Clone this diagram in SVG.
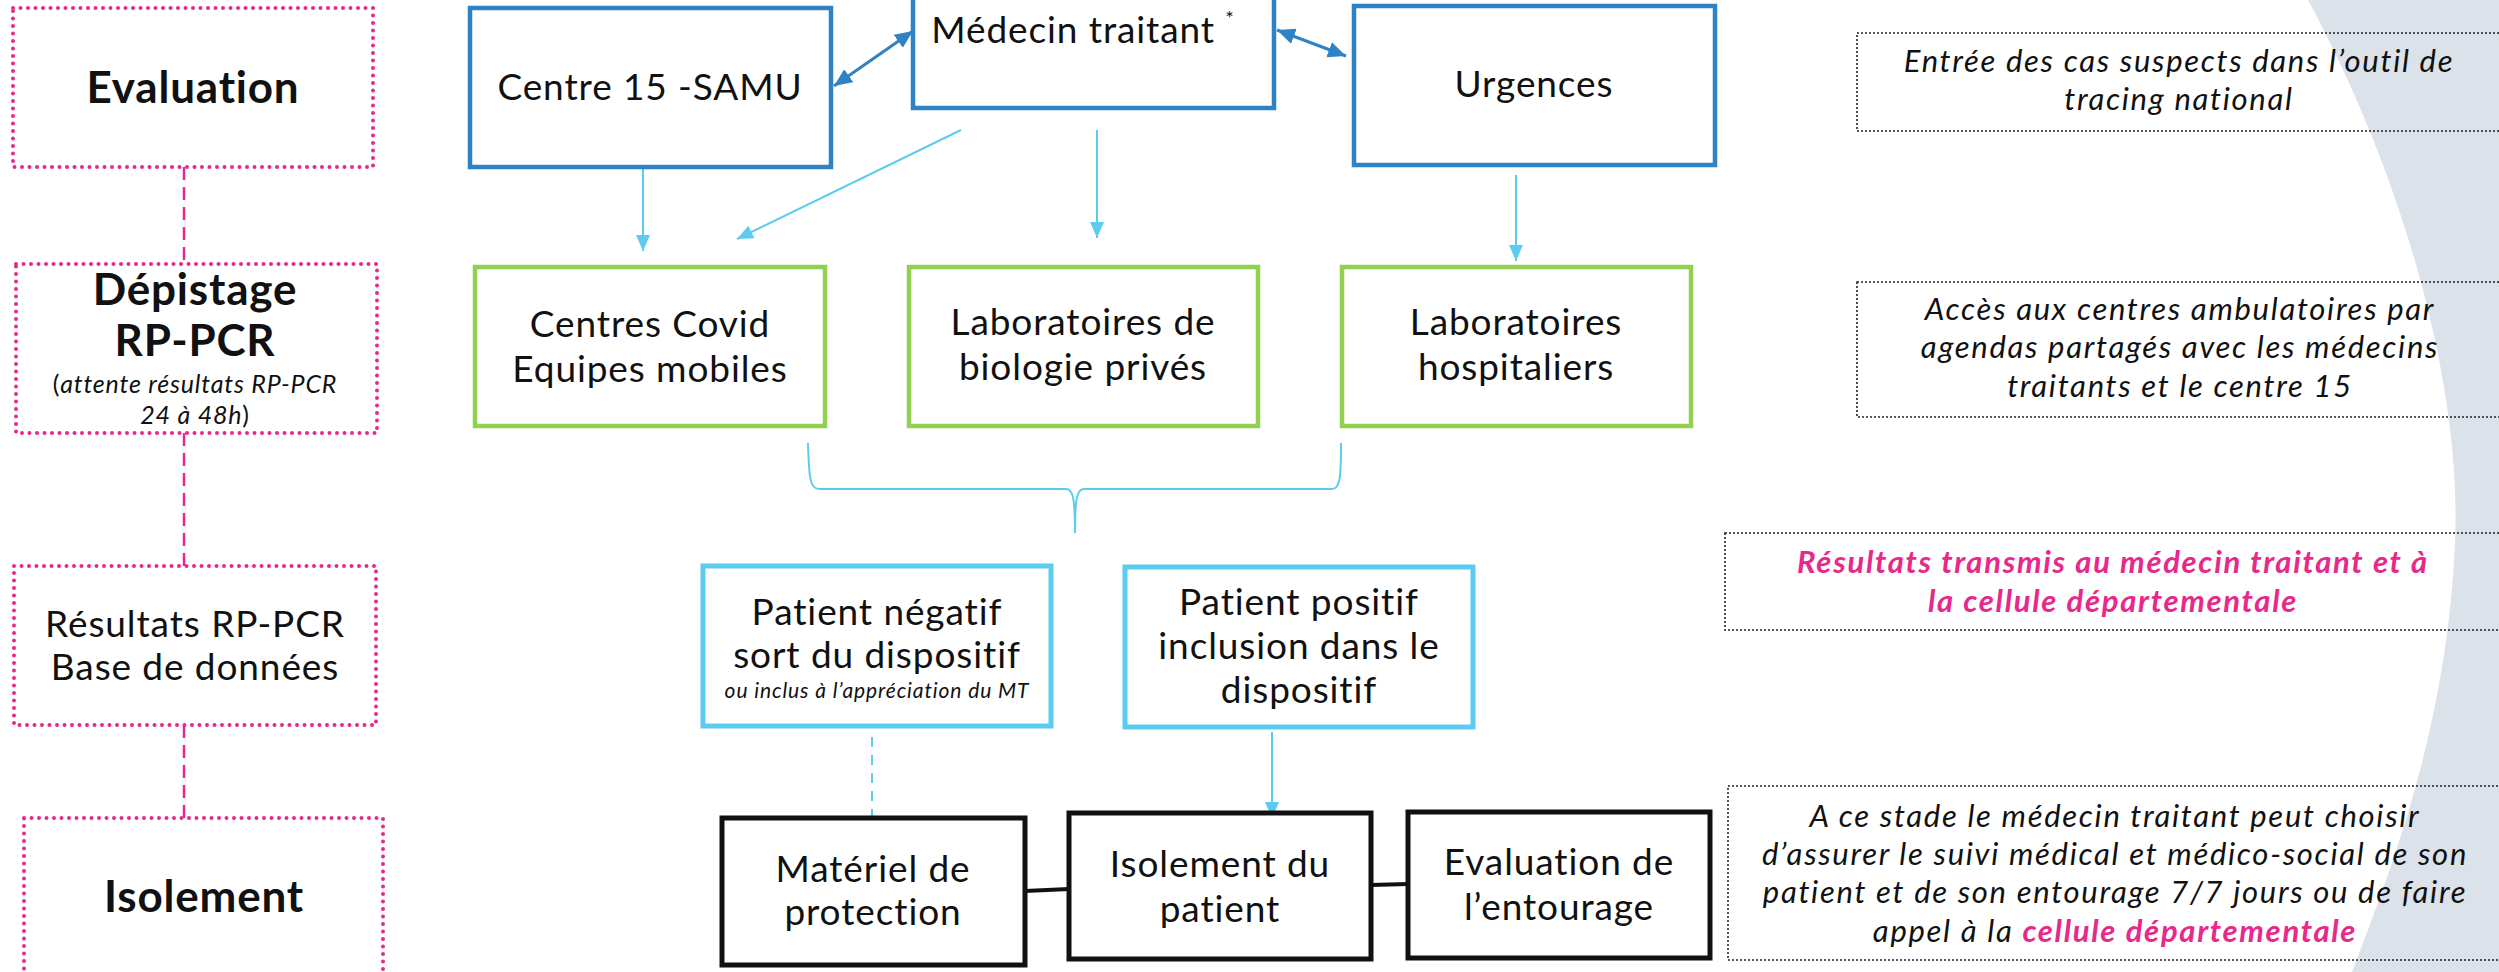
<svg xmlns="http://www.w3.org/2000/svg" width="2499" height="972" viewBox="0 0 2499 972">
  <style>
    .t { font-family: Lato, "Open Sans", "Liberation Sans", sans-serif; fill: #111; font-variant-ligatures: none; }
    .node { font-size: 37px; letter-spacing: 0.9px; text-anchor: middle; }
    .stage { font-size: 44px; font-weight: bold; letter-spacing: 0.8px; text-anchor: middle; }
    .note { font-size: 31px; font-style: italic; letter-spacing: 1.7px; text-anchor: middle; }
    .pink { fill: #E8288A; font-weight: bold; }
    .stagebox { fill: none; stroke: #E8288A; stroke-width: 4; stroke-dasharray: 0 7.5; stroke-linecap: round; }
    .notebox { fill: none; stroke: #222; stroke-width: 1.6; stroke-dasharray: 2 2; }
    .blue { fill: #fff; stroke: #2F83C5; stroke-width: 4.5; }
    .green { fill: #fff; stroke: #92D050; stroke-width: 4.5; }
    .cyan { fill: #fff; stroke: #5CCBF0; stroke-width: 5; }
    .black { fill: #fff; stroke: #111; stroke-width: 5; }
    .arrow { stroke: #5CCBF0; stroke-width: 2; fill: none; }
    .darrow { stroke: #2F83C5; stroke-width: 3; fill: none; }
    .pinkdash { stroke: #E8288A; stroke-width: 2.5; stroke-dasharray: 13 7; fill: none; }
  </style>
  <defs>
    <marker id="headCyan" markerUnits="userSpaceOnUse" markerWidth="20" markerHeight="16" refX="16" refY="7" orient="auto">
      <path d="M0 0 L16 7 L0 14 Z" fill="#5CCBF0"/>
    </marker>
    <marker id="headBlue" markerUnits="userSpaceOnUse" markerWidth="22" markerHeight="18" refX="18" refY="8" orient="auto-start-reverse">
      <path d="M0 0 L18 8 L0 16 Z" fill="#2F83C5"/>
    </marker>
  </defs>

  <rect x="0" y="0" width="2499" height="972" fill="#fff"/>
  <!-- background swoosh on the right -->
  <path d="M2308 0 C2400 170 2462 380 2455 540 C2448 720 2395 860 2352 972 L2499 972 L2499 0 Z" fill="#DCE2EA"/>

  <!-- stage column -->
  <g id="stage-evaluation">
    <rect class="stagebox" x="13" y="8" width="360" height="159"/>
    <text class="t stage" x="193" y="103">Evaluation</text>
  </g>
  <g id="stage-depistage">
    <rect class="stagebox" x="16" y="264" width="361" height="169"/>
    <text class="t stage" x="195" y="305">Dépistage</text>
    <text class="t stage" x="195" y="356">RP-PCR</text>
    <text class="t" style="font-size:25px;letter-spacing:0.8px;text-anchor:middle"><tspan x="195" y="393">(<tspan font-style="italic">attente résultats RP-PCR</tspan></tspan><tspan x="195" y="424" font-style="italic">24 à 48h</tspan>)</text>
  </g>
  <g id="stage-resultats">
    <rect class="stagebox" x="14" y="566" width="362" height="159"/>
    <text class="t node" x="195" y="637">Résultats RP-PCR</text>
    <text class="t node" x="195" y="680">Base de données</text>
  </g>
  <g id="stage-isolement">
    <rect class="stagebox" x="24" y="818" width="359" height="170"/>
    <text class="t stage" x="204" y="912">Isolement</text>
  </g>

  <!-- connectors -->
  <g id="connectors">
    <line class="pinkdash" x1="184" y1="167" x2="184" y2="264"/>
    <line class="pinkdash" x1="184" y1="433" x2="184" y2="566"/>
    <line class="pinkdash" x1="184" y1="725" x2="184" y2="818"/>

    <line class="darrow" x1="834" y1="86" x2="913" y2="31" marker-start="url(#headBlue)" marker-end="url(#headBlue)"/>
    <line class="darrow" x1="1277" y1="30" x2="1346" y2="56" marker-start="url(#headBlue)" marker-end="url(#headBlue)"/>

    <line class="arrow" x1="643" y1="167" x2="643" y2="251" marker-end="url(#headCyan)"/>
    <line class="arrow" x1="961" y1="130" x2="737" y2="239" stroke-width="3" marker-end="url(#headCyan)"/>
    <line class="arrow" x1="1097" y1="130" x2="1097" y2="238" marker-end="url(#headCyan)"/>
    <line class="arrow" x1="1516" y1="175" x2="1516" y2="261" marker-end="url(#headCyan)"/>

    <path class="arrow" stroke-width="3" d="M808 443 C809 478 810 489 819 489 L1066 489 C1073 489 1075 498 1075 533 C1075 498 1077 489 1084 489 L1332 489 C1340 489 1341 478 1341 443"/>

    <line class="arrow" x1="872" y1="737" x2="872" y2="817" stroke-dasharray="10 8"/>
    <line class="arrow" x1="1272" y1="732" x2="1272" y2="818" marker-end="url(#headCyan)"/>

    <line x1="1025" y1="891" x2="1069" y2="889" stroke="#111" stroke-width="4"/>
    <line x1="1371" y1="885" x2="1408" y2="884" stroke="#111" stroke-width="4"/>
  </g>

  <!-- first line of care -->
  <g id="centre15">
    <rect class="blue" x="470" y="8" width="361" height="159"/>
    <text class="t node" x="650" y="100">Centre 15 -SAMU</text>
  </g>
  <g id="medecin">
    <rect class="blue" x="913" y="-4" width="361" height="112"/>
    <text class="t node" x="1083" y="43">Médecin traitant <tspan font-size="20" dy="-18">*</tspan></text>
  </g>
  <g id="urgences">
    <rect class="blue" x="1354" y="6" width="361" height="159"/>
    <text class="t node" x="1534" y="97">Urgences</text>
  </g>

  <!-- testing sites -->
  <g id="centres-covid">
    <rect class="green" x="475" y="267" width="350" height="159"/>
    <text class="t node" x="650" y="337">Centres Covid</text>
    <text class="t node" x="650" y="382">Equipes mobiles</text>
  </g>
  <g id="labo-prives">
    <rect class="green" x="909" y="267" width="349" height="159"/>
    <text class="t node" x="1083" y="335">Laboratoires de</text>
    <text class="t node" x="1083" y="380">biologie privés</text>
  </g>
  <g id="labo-hospitaliers">
    <rect class="green" x="1342" y="267" width="349" height="159"/>
    <text class="t node" x="1516" y="335">Laboratoires</text>
    <text class="t node" x="1516" y="380">hospitaliers</text>
  </g>

  <!-- results -->
  <g id="patient-negatif">
    <rect class="cyan" x="703" y="566" width="348" height="160"/>
    <text class="t node" x="877" y="625">Patient négatif</text>
    <text class="t node" x="877" y="668">sort du dispositif</text>
    <text class="t" x="877" y="698" style="font-size:21px;font-style:italic;letter-spacing:0.9px;text-anchor:middle">ou inclus à l’appréciation du MT</text>
  </g>
  <g id="patient-positif">
    <rect class="cyan" x="1125" y="567" width="348" height="160"/>
    <text class="t node" x="1299" y="615">Patient positif</text>
    <text class="t node" x="1299" y="659">inclusion dans le</text>
    <text class="t node" x="1299" y="703">dispositif</text>
  </g>

  <!-- isolation -->
  <g id="materiel">
    <rect class="black" x="722" y="818" width="303" height="147"/>
    <text class="t node" x="873" y="882">Matériel de</text>
    <text class="t node" x="873" y="925">protection</text>
  </g>
  <g id="isolement-patient">
    <rect class="black" x="1069" y="813" width="302" height="146"/>
    <text class="t node" x="1220" y="877">Isolement du</text>
    <text class="t node" x="1220" y="922">patient</text>
  </g>
  <g id="evaluation-entourage">
    <rect class="black" x="1408" y="812" width="302" height="146"/>
    <text class="t node" x="1559" y="875">Evaluation de</text>
    <text class="t node" x="1559" y="920">l’entourage</text>
  </g>

  <!-- side notes -->
  <g id="note-tracing">
    <rect class="notebox" x="1857" y="33" width="660" height="98"/>
    <text class="t note" x="2179" y="72">Entrée des cas suspects dans l’outil de</text>
    <text class="t note" x="2179" y="110">tracing national</text>
  </g>
  <g id="note-agendas">
    <rect class="notebox" x="1857" y="282" width="660" height="135"/>
    <text class="t note" x="2180" y="320">Accès aux centres ambulatoires par</text>
    <text class="t note" x="2180" y="358">agendas partagés avec les médecins</text>
    <text class="t note" x="2180" y="397">traitants et le centre 15</text>
  </g>
  <g id="note-resultats">
    <rect class="notebox" x="1725" y="533" width="790" height="97"/>
    <text class="t note pink" x="2113" y="573">Résultats transmis au médecin traitant et à</text>
    <text class="t note pink" x="2113" y="612">la cellule départementale</text>
  </g>
  <g id="note-suivi">
    <rect class="notebox" x="1728" y="786" width="790" height="174"/>
    <text class="t note" x="2115" y="827">A ce stade le médecin traitant peut choisir</text>
    <text class="t note" x="2115" y="865">d’assurer le suivi médical et médico-social de son</text>
    <text class="t note" x="2115" y="903">patient et de son entourage 7/7 jours ou de faire</text>
    <text class="t note" x="2115" y="942">appel à la <tspan class="pink">cellule départementale</tspan></text>
  </g>
</svg>
